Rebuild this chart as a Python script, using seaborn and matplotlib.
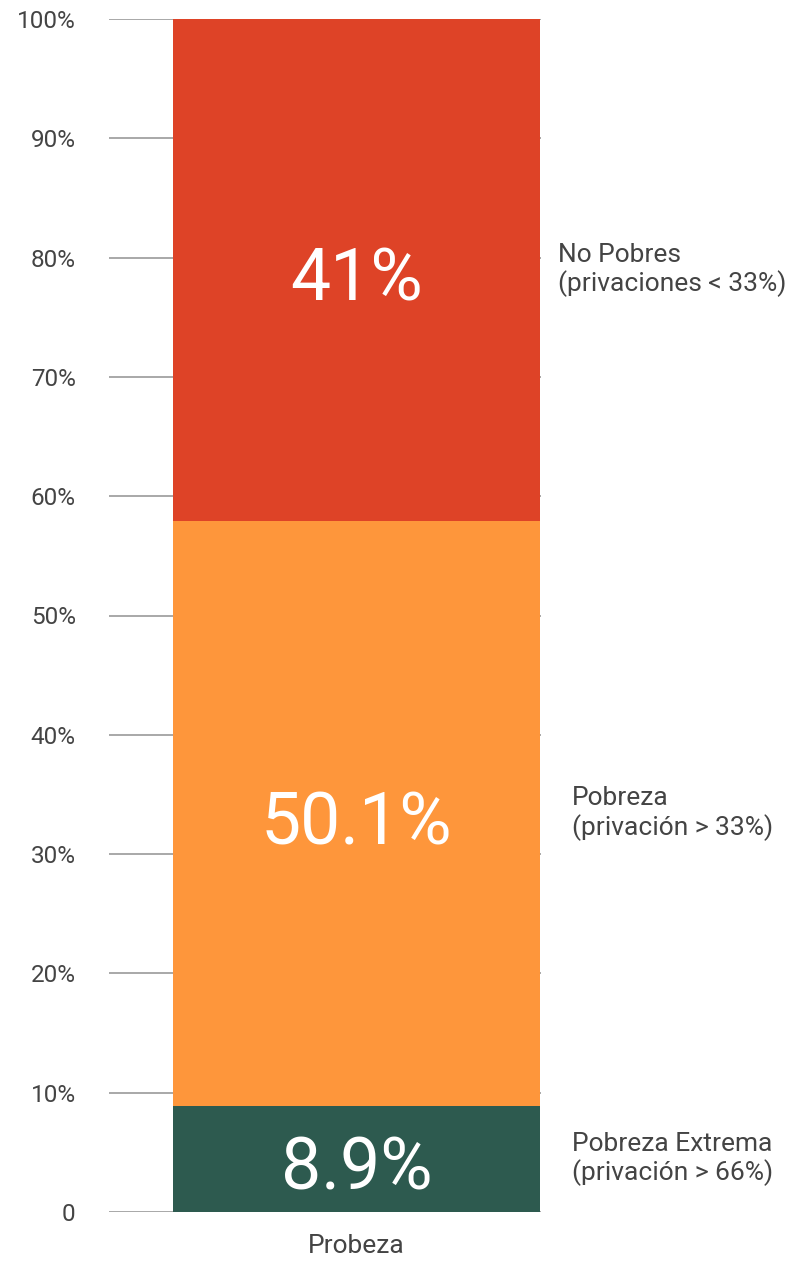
#!/usr/bin/env python3

import pandas as pd
import seaborn as sns
import matplotlib.pyplot as plt

# === Data (segment heights as drawn, bottom to top) ===
segments = ["Pobreza Extrema", "Pobreza", "No Pobres"]
heights = [8.9, 49.0, 42.1]
value_labels = ["8.9%", "50.1%", "41%"]
side_labels = [
    "Pobreza Extrema\n(privación > 66%)",
    "Pobreza\n(privación > 33%)",
    "No Pobres\n(privaciones < 33%)",
]
colors = ["#2D5A4F", "#FE963B", "#DE4327"]
category = "Probeza"
yticks = [0, 10, 20, 30, 40, 50, 60, 70, 80, 90, 100]
ytick_labels = ["0"] + [f"{t}%" for t in yticks[1:]]


def main():
    sns.set_theme(style="white")
    plt.rcParams["font.family"] = ["Roboto", "DejaVu Sans"]

    df = pd.DataFrame({"segment": segments, "height": heights})
    df["top"] = df["height"].cumsum()
    df["bottom"] = df["top"] - df["height"]

    fig = plt.figure(figsize=(7.94, 12.61), dpi=100)
    ax = fig.add_axes([109 / 794, 1 - 1212 / 1261, 432 / 794, 1193 / 1261])

    # gridlines behind the bar
    for t in yticks:
        ax.axhline(t, color="#9a9a9a", lw=1.2, zorder=0)

    # stacked bar: draw cumulative tops from largest to smallest
    for i in reversed(range(len(df))):
        sns.barplot(x=[category], y=[df["top"].iloc[i]], color=colors[i],
                    width=0.8, saturation=1, linewidth=0, edgecolor="none",
                    ax=ax, zorder=2)

    ax.set_xlim(-0.5395, 0.402)
    ax.set_ylim(0, 100)
    ax.set_yticks(yticks)
    ax.set_yticklabels(ytick_labels)
    ax.tick_params(axis="y", length=0, pad=24, labelsize=17.5, labelcolor="#444444")
    ax.tick_params(axis="x", length=0, pad=16, labelsize=19, labelcolor="#444444")
    ax.set_xlabel("")
    ax.set_ylabel("")
    for s in ax.spines.values():
        s.set_visible(False)

    # value labels in the bar and side labels
    side_x = [0.47, 0.47, 0.439]
    for i, row in df.iterrows():
        mid = (row["bottom"] + row["top"]) / 2
        ax.text(0, mid - 0.3, value_labels[i], color="white", fontsize=51.5,
                ha="center", va="center_baseline", zorder=3)
        ax.text(side_x[i], mid, side_labels[i], color="#444444", fontsize=19,
                ha="left", va="center", linespacing=1.18, clip_on=False)

    fig.savefig("out.png", dpi=100)


if __name__ == "__main__":
    main()
